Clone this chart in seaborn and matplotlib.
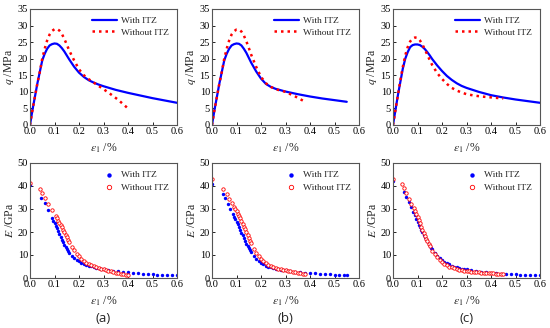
import matplotlib
import matplotlib.pyplot as plt
import seaborn as sns

matplotlib.use("Agg")

sns.set_theme(style="ticks", rc={'axes.grid': False})
plt.rcParams['font.family'] = ['Liberation Serif', 'DejaVu Serif']
plt.rcParams['mathtext.fontset'] = 'stix'

# ---- stress-strain data (q, MPa) ----
eps_a_with = [0, .01, .02, .03, .04, .05, .06, .07, .08, .09, .10, .11, .12, .13, .14, .15, .16,
              .18, .20, .22, .24, .26, .28, .30, .35, .40, .45, .50, .55, .60]
q_a_with = [0, 4.5, 8.5, 12.5, 16, 19.5, 21.5, 23, 24, 24.4, 24.6, 24.5, 24, 23.2, 22.2, 21, 19.8,
            17.6, 15.8, 14.5, 13.5, 12.8, 12.2, 11.7, 10.6, 9.7, 8.9, 8.1, 7.4, 6.7]
eps_a_wo = [0, .01, .02, .03, .04, .05, .06, .07, .08, .09, .10, .11, .12, .13, .14, .15, .16,
            .18, .20, .22, .24, .26, .28, .30, .32, .34, .36, .38, .40]
q_a_wo = [0, 4.5, 8.5, 12.5, 16, 20, 23, 25.5, 27.3, 28.4, 28.9, 29, 28.5, 27.5, 26, 24.3, 22.5,
          19.5, 16.8, 15, 13.8, 12.8, 11.8, 10.8, 9.8, 8.7, 7.6, 6.3, 5.0]

eps_b_with = [0, .01, .02, .03, .04, .05, .06, .07, .08, .09, .10, .11, .12, .13, .14, .15, .16,
              .18, .20, .22, .24, .26, .28, .30, .35, .40, .45, .50, .55]
q_b_with = [0, 4.5, 8.5, 12.5, 16, 19.5, 21.5, 23, 24, 24.4, 24.6, 24.5, 24, 23, 21.8, 20.3, 18.8,
            16.2, 14.0, 12.4, 11.5, 10.9, 10.5, 10.1, 9.3, 8.6, 8.0, 7.5, 7.0]
eps_b_wo = [0, .01, .02, .03, .04, .05, .06, .07, .08, .09, .10, .11, .12, .13, .14, .15, .16,
            .18, .20, .22, .24, .26, .28, .30, .32, .34, .36, .38]
q_b_wo = [0, 4.5, 8.5, 12.5, 16, 20, 23, 25.5, 27.3, 28.3, 28.8, 28.8, 28.2, 27, 25.3, 23.3, 21.2,
          17.6, 14.5, 12.6, 11.5, 10.8, 10.4, 10.0, 9.3, 8.6, 7.8, 7.0]

eps_c_with = [0, .01, .02, .03, .04, .05, .06, .07, .08, .09, .10, .11, .12, .13, .14, .15, .16,
              .18, .20, .22, .24, .26, .28, .30, .35, .40, .45, .50, .55, .60]
q_c_with = [0, 4.5, 9, 13, 17, 20, 22, 23.5, 24.1, 24.3, 24.3, 24.1, 23.6, 22.9, 22.0, 21.0, 19.9,
            18.0, 16.3, 14.8, 13.6, 12.6, 11.8, 11.2, 10.0, 9.0, 8.3, 7.7, 7.2, 6.7]
eps_c_wo = [0, .01, .02, .03, .04, .05, .06, .07, .08, .09, .10, .11, .12, .13, .14, .15, .16,
            .18, .20, .22, .24, .26, .28, .30, .33, .36, .39, .42, .45]
q_c_wo = [0, 4.5, 9, 13.5, 17.5, 21, 23.5, 25.2, 26.1, 26.4, 26.3, 25.5, 24.3, 22.8, 21.2, 19.6, 18.1,
          15.7, 13.9, 12.4, 11.2, 10.4, 9.8, 9.3, 8.9, 8.6, 8.4, 8.2, 8.0]

# ---- modulus data (E, GPa) ----
epsE_a_with = [0.0, .045, .06, .075, .09, .095, .10, .105, .11, .115, .12, .125, .13, .135, .14,
               .145, .15, .155, .16, .17, .18, .19, .20, .21, .22, .23, .24, .25, .26, .27, .28,
               .29, .30, .32, .34, .36, .38, .40, .42, .44, .46, .48, .50, .52, .54, .56, .58, .60]
E_a_with = [40.5, 35, 32.7, 29.6, 26.3, 25.0, 24.0, 22.8, 21.6, 20.3, 19.1, 17.9, 16.7, 15.6, 14.5,
            13.5, 12.5, 11.7, 10.9, 9.6, 8.6, 7.8, 7.2, 6.6, 6.1, 5.7, 5.4, 5.1, 4.8, 4.55, 4.3,
            4.1, 3.9, 3.5, 3.2, 2.9, 2.65, 2.45, 2.25, 2.05, 1.9, 1.75, 1.6, 1.5, 1.4, 1.3, 1.2, 1.1]
epsE_a_wo = [0.0, .04, .05, .06, .075, .09, .105, .11, .115, .12, .125, .13, .135, .14, .145,
             .15, .155, .16, .17, .18, .19, .20, .21, .22, .23, .24, .25, .26, .27, .28, .29, .30,
             .31, .32, .33, .34, .35, .36, .37, .38, .39, .40]
E_a_wo = [41.5, 38.7, 37.0, 34.8, 32.3, 29.4, 27.1, 26.0, 25.0, 24.0, 23.0, 22.0, 21.0, 19.9, 18.8,
          17.7, 16.6, 15.5, 13.6, 12.0, 10.6, 9.4, 8.3, 7.4, 6.7, 6.1, 5.6, 5.1, 4.7, 4.3, 4.0, 3.7,
          3.4, 3.1, 2.85, 2.6, 2.35, 2.1, 1.9, 1.7, 1.45, 1.2]

epsE_b_with = [0.0, .045, .055, .065, .075, .085, .09, .095, .10, .105, .11, .115, .12, .125, .13,
               .135, .14, .145, .15, .155, .16, .17, .18, .19, .20, .21, .22, .23, .24, .25, .26,
               .27, .28, .29, .30, .32, .34, .36, .38, .40, .42, .44, .46, .48, .50, .52, .54, .55]
E_b_with = [41.0, 36.5, 35.0, 32.0, 30.0, 27.8, 26.5, 25.5, 24.5, 23.3, 22.1, 20.9, 19.7, 18.5, 17.3,
            16.1, 15.0, 13.9, 12.9, 12.0, 11.1, 9.6, 8.4, 7.4, 6.6, 5.9, 5.4, 4.9, 4.6, 4.3, 4.05,
            3.85, 3.65, 3.5, 3.35, 3.05, 2.8, 2.55, 2.35, 2.15, 2.0, 1.85, 1.7, 1.6, 1.5, 1.4, 1.3, 1.25]
epsE_b_wo = [0.0, .045, .06, .07, .08, .09, .095, .10, .105, .11, .115, .12, .125, .13, .135,
             .14, .145, .15, .155, .16, .17, .18, .19, .20, .21, .22, .23, .24, .25, .26, .27, .28,
             .29, .30, .31, .32, .33, .34, .35, .36, .37, .38]
E_b_wo = [43.0, 38.5, 36.5, 34.3, 32.5, 31.0, 30.0, 29.0, 28.0, 27.0, 25.9, 24.7, 23.5, 22.3, 21.1,
          19.9, 18.7, 17.5, 16.3, 15.2, 12.8, 11.0, 9.5, 8.2, 7.2, 6.4, 5.8, 5.2, 4.8, 4.4, 4.1, 3.8,
          3.55, 3.35, 3.15, 2.95, 2.75, 2.55, 2.35, 2.15, 1.95, 1.8]

epsE_c_with = [0.0, .045, .055, .065, .075, .08, .09, .095, .10, .105, .11, .115, .12, .125, .13,
               .135, .14, .145, .15, .155, .16, .17, .18, .19, .20, .21, .22, .23, .24, .25, .26,
               .27, .28, .29, .30, .32, .34, .36, .38, .40, .42, .44, .46, .48, .50, .52, .54, .56,
               .58, .60]
E_c_with = [42.0, 37.3, 35.3, 33.2, 30.8, 28.8, 27.3, 25.5, 24.3, 23.2, 22.0, 21.0, 19.9, 18.9, 17.9,
            16.9, 15.9, 15.0, 14.1, 13.2, 12.4, 10.9, 9.7, 8.6, 7.8, 7.0, 6.4, 5.9, 5.4, 5.0, 4.7,
            4.4, 4.1, 3.9, 3.7, 3.35, 3.05, 2.8, 2.6, 2.3, 2.1, 1.95, 1.8, 1.7, 1.55, 1.45, 1.35, 1.25,
            1.2, 1.1]
epsE_c_wo = [0.0, .035, .045, .055, .065, .075, .085, .09, .095, .10, .105, .11, .115, .12, .125,
             .13, .135, .14, .145, .15, .16, .17, .18, .19, .20, .21, .22, .23, .24, .25, .26, .27,
             .28, .29, .30, .31, .32, .33, .34, .35, .36, .37, .38, .39, .40, .41, .42, .43, .44, .45]
E_c_wo = [43.0, 41.0, 39.0, 37.0, 34.5, 32.3, 30.5, 29.3, 28.0, 26.6, 25.2, 23.7, 22.3, 20.9, 19.6,
          18.3, 17.1, 15.9, 14.8, 13.8, 11.9, 10.3, 9.0, 7.9, 7.0, 6.2, 5.6, 5.0, 4.6, 4.2, 3.9, 3.6,
          3.4, 3.2, 3.05, 2.9, 2.75, 2.6, 2.5, 2.4, 2.3, 2.2, 2.15, 2.1, 2.05, 2.0, 1.95, 1.9, 1.85, 1.8]

q_sets = [(eps_a_with, q_a_with, eps_a_wo, q_a_wo),
          (eps_b_with, q_b_with, eps_b_wo, q_b_wo),
          (eps_c_with, q_c_with, eps_c_wo, q_c_wo)]
E_sets = [(epsE_a_with, E_a_with, epsE_a_wo, E_a_wo),
          (epsE_b_with, E_b_with, epsE_b_wo, E_b_wo),
          (epsE_c_with, E_c_with, epsE_c_wo, E_c_wo)]
panel_labels = ["(a)", "(b)", "(c)"]

W, H = 550, 328
lefts = [30, 212, 393]
aw = 147

fig = plt.figure(figsize=(5.5, 3.28), dpi=100)


def style_axes(ax, ymax, ystep, ylabel):
    ax.set_xlim(0, 0.6)
    ax.set_ylim(0, ymax)
    ax.set_xticks([0, .1, .2, .3, .4, .5, .6])
    ax.set_xticklabels(["0.0", "0.1", "0.2", "0.3", "0.4", "0.5", "0.6"])
    ax.set_yticks(range(0, ymax + 1, ystep))
    ax.tick_params(direction='in', length=2.5, width=0.6, labelsize=7.5, pad=1.5, colors='black')
    for s in ax.spines.values():
        s.set_color('#555555')
        s.set_linewidth(0.8)
    ax.set_xlabel(r'$\varepsilon_1$ /%', fontsize=8.5, labelpad=4)
    ax.set_ylabel(ylabel, fontsize=8.5, labelpad=1)


for i in range(3):
    ew, qw, eo, qo = q_sets[i]
    ax = fig.add_axes([lefts[i] / W, 1 - 125 / H, aw / W, 116 / H])
    sns.lineplot(x=ew, y=qw, ax=ax, color='#0000ff', linewidth=1.6, label='With ITZ', sort=False)
    sns.lineplot(x=eo, y=qo, ax=ax, color='#ff0000', linewidth=1.8, label='Without ITZ', sort=False,
                 linestyle=(0, (1, 1.6)))
    style_axes(ax, 35, 5, r'$q$ /MPa')
    ax.legend(loc='upper right', frameon=False, fontsize=6.8, handlelength=2.6,
              handletextpad=0.5, borderaxespad=0.4, labelspacing=0.3)

    ew, Ew, eo, Eo = E_sets[i]
    ax2 = fig.add_axes([lefts[i] / W, 1 - 278 / H, aw / W, 115 / H])
    sns.scatterplot(x=ew, y=Ew, ax=ax2, color='#0000ff', s=6, linewidth=0, label='With ITZ')
    sns.scatterplot(x=eo, y=Eo, ax=ax2, facecolor='white', edgecolor='#ff0000', s=6,
                    linewidth=0.6, label='Without ITZ')
    style_axes(ax2, 50, 10, r'$E$ /GPa')
    ax2.legend(loc='upper right', frameon=False, fontsize=6.8, handletextpad=0.3,
               borderaxespad=0.4, labelspacing=0.4, markerscale=1.3)

    fig.text((lefts[i] + aw / 2) / W, 1 - 318 / H, panel_labels[i], ha='center', va='center',
             fontsize=9.5, family=['Open Sans', 'DejaVu Sans'])

fig.savefig("out.png", dpi=100)
